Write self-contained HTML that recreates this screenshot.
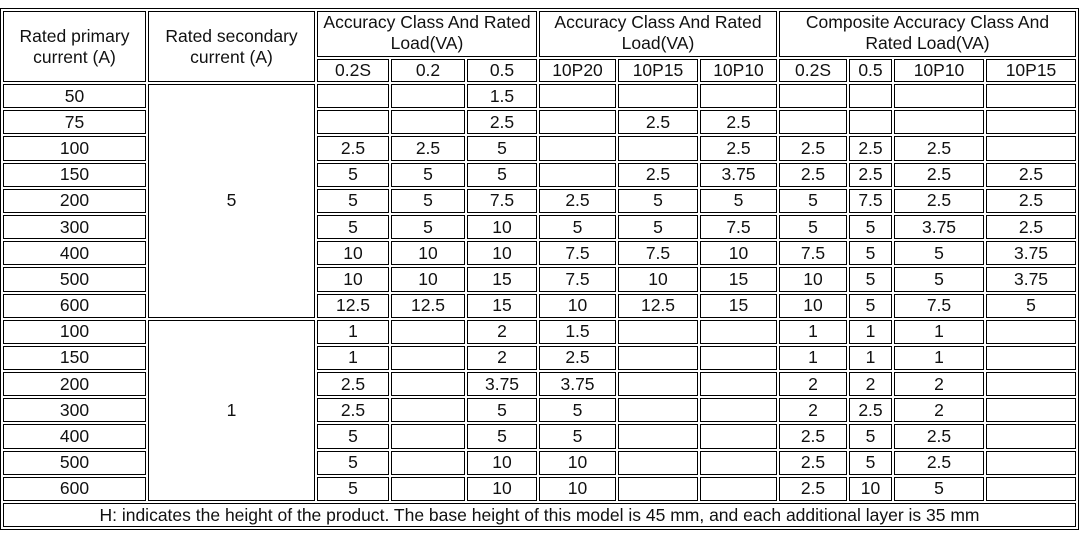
<!DOCTYPE html>
<html><head><meta charset="utf-8"><style>
html,body{margin:0;padding:0;background:#fff;width:1081px;height:534px;overflow:hidden}
table{position:absolute;left:0px;top:8px;border:1px solid #000;border-collapse:separate;border-spacing:2px;table-layout:fixed;font-family:"Liberation Sans",Arial,sans-serif;font-size:17.5px;color:#111}
td{border:1px solid #000;padding:0;text-align:center;vertical-align:middle;line-height:21px;box-sizing:border-box;overflow:hidden;white-space:nowrap}
tr.d td{height:24.2px}
td.w{white-space:normal}
</style></head><body>
<table>
<colgroup><col style="width:143px"><col style="width:167px"><col style="width:72px"><col style="width:74px"><col style="width:70px"><col style="width:77px"><col style="width:80px"><col style="width:77px"><col style="width:68px"><col style="width:43px"><col style="width:90px"><col style="width:90px"></colgroup>
<tr style="height:46px"><td rowspan="2" class="w">Rated primary<br>current (A)</td><td rowspan="2" class="w">Rated secondary<br>current (A)</td><td colspan="3" class="w" style="vertical-align:top;height:46px">Accuracy Class And Rated<br>Load(VA)</td><td colspan="3" class="w" style="vertical-align:top">Accuracy Class And Rated<br>Load(VA)</td><td colspan="4" class="w" style="vertical-align:top">Composite Accuracy Class And<br>Rated Load(VA)</td></tr>
<tr style="height:23px"><td style="height:23px">0.2S</td><td>0.2</td><td>0.5</td><td>10P20</td><td>10P15</td><td>10P10</td><td>0.2S</td><td>0.5</td><td>10P10</td><td>10P15</td></tr>
<tr class="d"><td>50</td><td rowspan="9">5</td><td></td><td></td><td>1.5</td><td></td><td></td><td></td><td></td><td></td><td></td><td></td></tr>
<tr class="d"><td>75</td><td></td><td></td><td>2.5</td><td></td><td>2.5</td><td>2.5</td><td></td><td></td><td></td><td></td></tr>
<tr class="d"><td>100</td><td>2.5</td><td>2.5</td><td>5</td><td></td><td></td><td>2.5</td><td>2.5</td><td>2.5</td><td>2.5</td><td></td></tr>
<tr class="d"><td>150</td><td>5</td><td>5</td><td>5</td><td></td><td>2.5</td><td>3.75</td><td>2.5</td><td>2.5</td><td>2.5</td><td>2.5</td></tr>
<tr class="d"><td>200</td><td>5</td><td>5</td><td>7.5</td><td>2.5</td><td>5</td><td>5</td><td>5</td><td>7.5</td><td>2.5</td><td>2.5</td></tr>
<tr class="d"><td>300</td><td>5</td><td>5</td><td>10</td><td>5</td><td>5</td><td>7.5</td><td>5</td><td>5</td><td>3.75</td><td>2.5</td></tr>
<tr class="d"><td>400</td><td>10</td><td>10</td><td>10</td><td>7.5</td><td>7.5</td><td>10</td><td>7.5</td><td>5</td><td>5</td><td>3.75</td></tr>
<tr class="d"><td>500</td><td>10</td><td>10</td><td>15</td><td>7.5</td><td>10</td><td>15</td><td>10</td><td>5</td><td>5</td><td>3.75</td></tr>
<tr class="d"><td>600</td><td>12.5</td><td>12.5</td><td>15</td><td>10</td><td>12.5</td><td>15</td><td>10</td><td>5</td><td>7.5</td><td>5</td></tr>
<tr class="d"><td>100</td><td rowspan="7">1</td><td>1</td><td></td><td>2</td><td>1.5</td><td></td><td></td><td>1</td><td>1</td><td>1</td><td></td></tr>
<tr class="d"><td>150</td><td>1</td><td></td><td>2</td><td>2.5</td><td></td><td></td><td>1</td><td>1</td><td>1</td><td></td></tr>
<tr class="d"><td>200</td><td>2.5</td><td></td><td>3.75</td><td>3.75</td><td></td><td></td><td>2</td><td>2</td><td>2</td><td></td></tr>
<tr class="d"><td>300</td><td>2.5</td><td></td><td>5</td><td>5</td><td></td><td></td><td>2</td><td>2.5</td><td>2</td><td></td></tr>
<tr class="d"><td>400</td><td>5</td><td></td><td>5</td><td>5</td><td></td><td></td><td>2.5</td><td>5</td><td>2.5</td><td></td></tr>
<tr class="d"><td>500</td><td>5</td><td></td><td>10</td><td>10</td><td></td><td></td><td>2.5</td><td>5</td><td>2.5</td><td></td></tr>
<tr class="d"><td>600</td><td>5</td><td></td><td>10</td><td>10</td><td></td><td></td><td>2.5</td><td>10</td><td>5</td><td></td></tr>
<tr class="d"><td colspan="12">H: indicates the height of the product. The base height of this model is 45 mm, and each additional layer is 35 mm</td></tr>
</table>
</body></html>
